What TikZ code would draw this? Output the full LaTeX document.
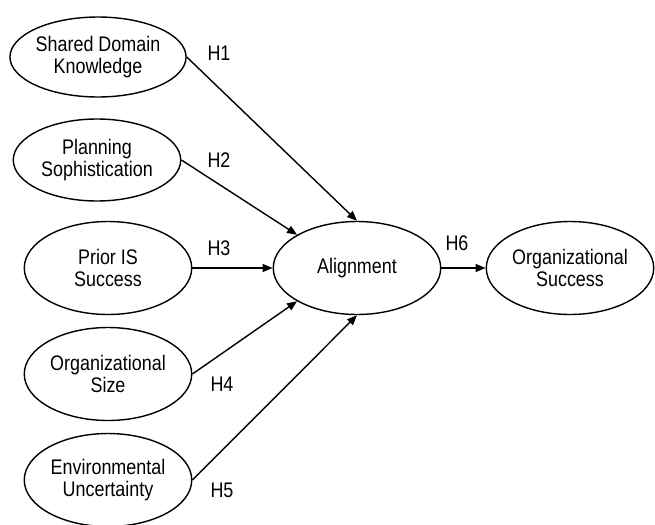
\documentclass[tikz,border=0pt]{standalone}
\usepackage{fontspec}
\setmainfont{Liberation Sans}[FakeStretch=0.85]
\usetikzlibrary{shapes.geometric,arrows.meta}
\begin{document}
\begin{tikzpicture}[
  x=0.02cm, y=-0.02cm,
  construct/.style={ellipse, draw, line width=0.8pt, minimum width=3.35cm, minimum height=1.86cm, inner sep=0pt, align=center, font=\fontsize{12}{13}\selectfont},
  path/.style={-{Triangle[length=2mm,width=1.6mm]}, line width=0.8pt},
  hyp/.style={font=\fontsize{12}{13}\selectfont},
]
  \useasboundingbox (0,0) rectangle (655,524);

  \node[construct, minimum height=1.6cm] (sdk) at (98, 57) {Shared Domain\\Knowledge};
  \node[construct, minimum height=1.64cm] (ps) at (97, 160) {Planning\\Sophistication};
  \node[construct] (pis) at (108, 268) {Prior IS\\Success};
  \node[construct] (os) at (108, 374) {Organizational\\Size};
  \node[construct] (eu) at (108, 480) {Environmental\\Uncertainty};
  \node[construct] (al) at (357, 268) {Alignment};
  \node[construct] (osucc) at (570, 268) {Organizational\\Success};

  \draw[path] (sdk.east) -- (al.north);
  \draw[path] (ps.east) -- (al.151);
  \draw[path] (pis.east) -- (al.west);
  \draw[path] (os.east) -- (al.209);
  \draw[path] (eu.east) -- (al.south);
  \draw[path] (al.east) -- (osucc.west);

  \node[hyp] (h1) at (219, 53) {H1};
  \node[hyp] (h2) at (219, 160) {H2};
  \node[hyp] (h3) at (219, 248) {H3};
  \node[hyp] (h4) at (222, 384) {H4};
  \node[hyp] (h5) at (222, 490) {H5};
  \node[hyp] (h6) at (457, 243) {H6};
\end{tikzpicture}
\end{document}
